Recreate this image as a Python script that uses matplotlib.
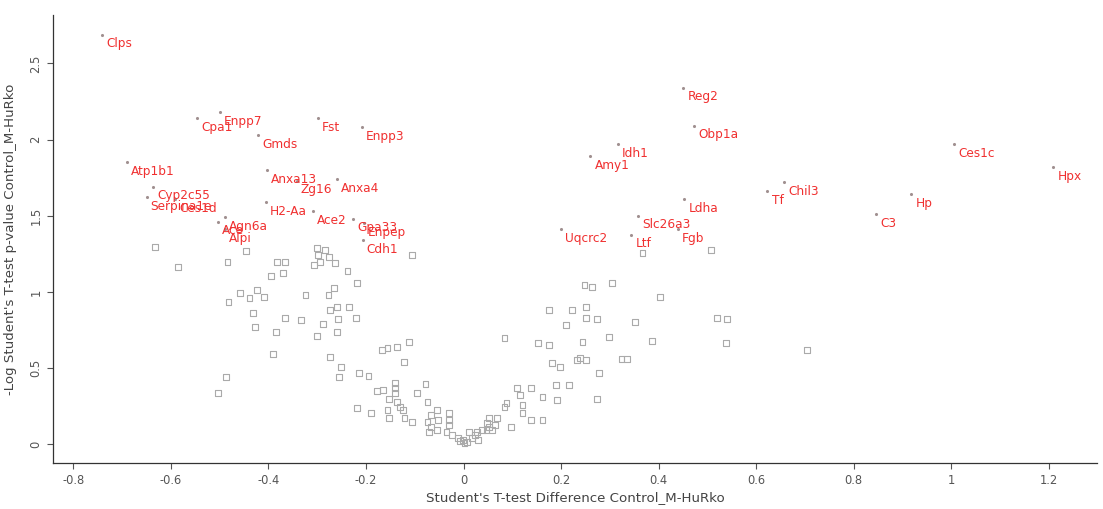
import numpy as np
import matplotlib
matplotlib.use("Agg")
import matplotlib.pyplot as plt

# volcano plot, Control_M vs HuRko

# non-significant proteins (grey squares)
grey_x = [-0.633, -0.586, -0.447, -0.484, -0.383, -0.367, -0.395, -0.371, -0.299, -0.275,
          -0.307, -0.295, -0.264, -0.238, -0.219, -0.266, -0.324, -0.277, -0.459, -0.482,
          -0.424, -0.439, -0.410, -0.432, -0.428, -0.385, -0.367, -0.334, -0.273, -0.260,
          -0.234, -0.221, -0.258, -0.289, -0.260, -0.301, -0.391, -0.273, -0.488, -0.504,
          -0.252, -0.256, -0.215, -0.195, -0.178, -0.219, -0.189, -0.105, -0.301, -0.285,
          -0.168, -0.156, -0.137, -0.111, -0.123, -0.141, -0.141, -0.166, -0.141, -0.152,
          -0.137, -0.131, -0.156, -0.125, -0.152, -0.121, -0.105, -0.078, -0.096, -0.074,
          -0.055, -0.066, -0.074, -0.053, -0.066, -0.070, -0.055, -0.035, -0.029, -0.029,
          -0.029, -0.023, -0.012, -0.002, 0.008, 0.018, 0.012, 0.027, 0.037, 0.023,
          0.029, 0.053, 0.068, 0.049, 0.064, 0.047, 0.059, 0.098, 0.088, 0.084,
          0.109, 0.115, 0.121, 0.121, 0.139, 0.162, 0.139, 0.162, 0.182, 0.189,
          0.191, 0.084, 0.152, 0.176, 0.002, -0.008, 0.248, 0.264, 0.305, 0.402,
          0.176, 0.223, 0.252, 0.252, 0.273, 0.211, 0.352, 0.520, 0.541, 0.244,
          0.299, 0.387, 0.539, 0.197, 0.232, 0.238, 0.252, 0.324, 0.336, 0.277,
          0.217, 0.273, 0.367, 0.508, 0.705, 0.053]
grey_y = [1.296, 1.164, 1.270, 1.197, 1.197, 1.197, 1.105, 1.125, 1.243, 1.230,
          1.178, 1.197, 1.191, 1.138, 1.059, 1.026, 0.980, 0.980, 0.993, 0.934,
          1.013, 0.961, 0.967, 0.862, 0.770, 0.737, 0.829, 0.816, 0.882, 0.901,
          0.901, 0.829, 0.822, 0.789, 0.737, 0.711, 0.592, 0.572, 0.441, 0.336,
          0.507, 0.441, 0.467, 0.447, 0.349, 0.237, 0.204, 1.243, 1.289, 1.276,
          0.618, 0.632, 0.638, 0.671, 0.539, 0.401, 0.368, 0.355, 0.336, 0.296,
          0.276, 0.243, 0.224, 0.224, 0.171, 0.171, 0.145, 0.395, 0.336, 0.276,
          0.224, 0.191, 0.145, 0.158, 0.112, 0.079, 0.092, 0.079, 0.204, 0.158,
          0.125, 0.059, 0.039, 0.026, 0.013, 0.039, 0.079, 0.079, 0.092, 0.059,
          0.026, 0.171, 0.171, 0.138, 0.125, 0.092, 0.092, 0.112, 0.270, 0.243,
          0.368, 0.322, 0.257, 0.204, 0.368, 0.309, 0.158, 0.158, 0.533, 0.388,
          0.289, 0.697, 0.664, 0.651, 0.007, 0.020, 1.046, 1.033, 1.059, 0.967,
          0.882, 0.882, 0.901, 0.829, 0.822, 0.783, 0.803, 0.829, 0.822, 0.671,
          0.704, 0.678, 0.664, 0.507, 0.553, 0.566, 0.553, 0.559, 0.559, 0.467,
          0.388, 0.296, 1.257, 1.276, 0.618, 0.112]

# significant proteins (labelled)
sig_names = ['Clps', 'Cpa1', 'Enpp7', 'Gmds', 'Fst', 'Enpp3', 'Atp1b1', 'Anxa13', 'Zg16',
             'Anxa4', 'Cyp2c55', 'Serpina1e', 'Ces1d', 'H2-Aa', 'Ace2', 'Gpa33', 'Enpep',
             'Cdh1', 'Agn6a', 'Ace', 'Alpi',
             'Reg2', 'Obp1a', 'Idh1', 'Amy1', 'Ldha', 'Slc26a3', 'Fgb', 'Uqcrc2', 'Ltf',
             'Tf', 'Chil3', 'Ces1c', 'Hpx', 'Hp', 'C3']
sig_x = [-0.742, -0.547, -0.500, -0.422, -0.299, -0.209, -0.691, -0.404, -0.342,
         -0.260, -0.637, -0.650, -0.592, -0.406, -0.309, -0.227, -0.205,
         -0.207, -0.490, -0.504, -0.490,
         0.451, 0.473, 0.316, 0.260, 0.453, 0.357, 0.439, 0.199, 0.344,
         0.623, 0.658, 1.006, 1.209, 0.918, 0.846]
sig_y = [2.69, 2.14, 2.18, 2.03, 2.14, 2.08, 1.85, 1.80, 1.73,
         1.74, 1.69, 1.62, 1.61, 1.59, 1.53, 1.48, 1.45,
         1.34, 1.49, 1.46, 1.41,
         2.34, 2.09, 1.97, 1.89, 1.61, 1.50, 1.41, 1.41, 1.375,
         1.66, 1.72, 1.97, 1.82, 1.64, 1.51]

x_ticks = [-0.8, -0.6, -0.4, -0.2, 0, 0.2, 0.4, 0.6, 0.8, 1, 1.2]
y_ticks = [0, 0.5, 1, 1.5, 2, 2.5]

fig = plt.figure(figsize=(11.03, 5.09), dpi=100)
ax = fig.add_axes([0.048, 0.090, 0.947, 0.881])

ax.scatter(grey_x, grey_y, s=18, marker='s', facecolors='none',
           edgecolors='#aaaaaa', linewidths=0.8)
ax.scatter(sig_x, sig_y, s=5, marker='o', color='#a09090', linewidths=0)
for name, x, y in zip(sig_names, sig_x, sig_y):
    ax.annotate(name, (x, y), xytext=(3, -6.5), textcoords='offset points',
                color='#f03030', fontsize=8.7, ha='left', va='center')

ax.set_xlim(-0.842, 1.30)
ax.set_ylim(-0.125, 2.82)
ax.set_xticks(x_ticks)
ax.set_xticklabels([f'{t:g}' for t in x_ticks])
ax.set_yticks(y_ticks)
ax.set_yticklabels([f'{t:g}' for t in y_ticks], rotation=90, va='center')
ax.tick_params(colors='#555555', labelsize=8.3, length=4, width=0.8)
for s in ['top', 'right']:
    ax.spines[s].set_visible(False)
for s in ['left', 'bottom']:
    ax.spines[s].set_color('#333333')
    ax.spines[s].set_linewidth(0.9)

ax.set_xlabel("Student's T-test Difference Control_M-HuRko", fontsize=9.6, color='#444444', labelpad=3)
ax.set_ylabel("-Log Student's T-test p-value Control_M-HuRko", fontsize=9.6, color='#444444', labelpad=9)

fig.savefig('out.png', dpi=100)
